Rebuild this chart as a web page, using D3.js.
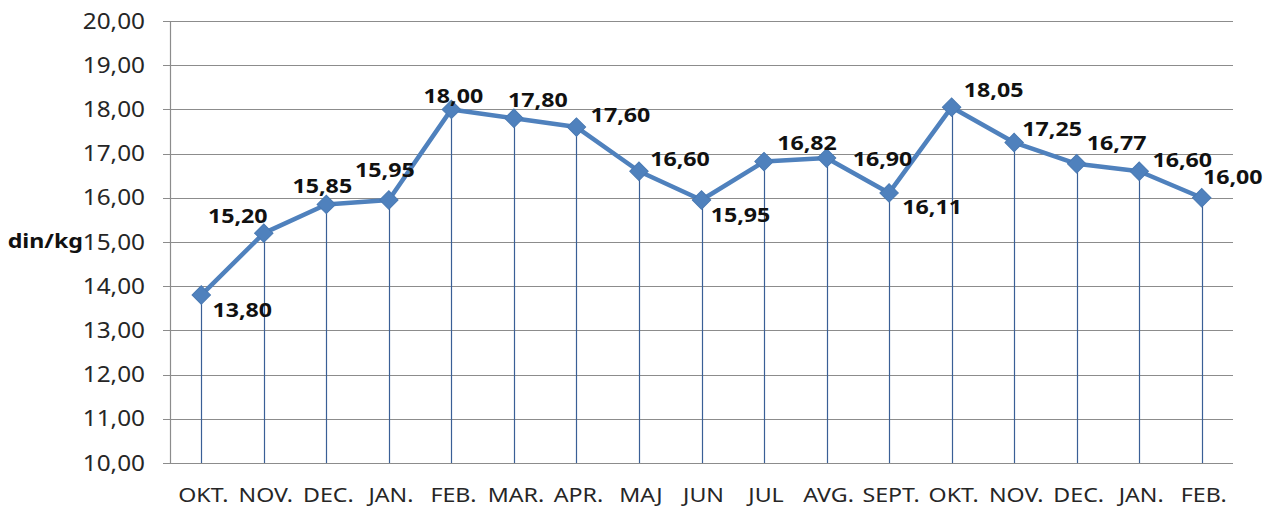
<!DOCTYPE html>
<meta charset="utf-8">
<style>
  body { margin: 0; background: #fff; }
  text { font-family: "Noto Sans", sans-serif; }
</style>
<script src="https://cdnjs.cloudflare.com/ajax/libs/d3/7.8.5/d3.min.js"></script>
<div id="chart"></div>
<script>

    // data
    var months = ["OKT.", "NOV.", "DEC.", "JAN.", "FEB.", "MAR.", "APR.", "MAJ", "JUN",
        "JUL", "AVG.", "SEPT.", "OKT.", "NOV.", "DEC.", "JAN.", "FEB."];
    var prices = [13.80, 15.20, 15.85, 15.95, 18.00, 17.80, 17.60, 16.60, 15.95,
        16.82, 16.90, 16.11, 18.05, 17.25, 16.77, 16.60, 16.00];
    var yTicks = [10, 11, 12, 13, 14, 15, 16, 17, 18, 19, 20];

    // label offsets from the marker (dx, dy), as placed in the original
    var labelOffsets = [[41, 15], [-26, -17], [-4, -19], [-4, -30], [2, -14], [24, -18],
        [44, -12], [41, -12], [39, 15], [43, -19], [56, 1], [43, 14], [42, -17],
        [38, -14], [40, -21], [43, -11], [31, -21]];

    var margin = {top: 21, right: 42, bottom: 45, left: 170},
        width = 1275 - margin.left - margin.right,
        height = 508 - margin.top - margin.bottom;

    // the original text is a bit stretched sideways
    var stretch = 1.16;

    var svg = d3.select("#chart")
        .append("svg")
            .attr("width", 1275)
            .attr("height", 508)
        .append("g")
            .attr("transform", "translate(" + margin.left + "," + margin.top + ")");

    var x = d3.scaleBand()
        .domain(d3.range(months.length))
        .range([0, width]);

    var y = d3.scaleLinear()
        .domain([10, 20])
        .range([height, 0]);

    var fmt = function(v) { return d3.format(".2f")(v).replace(".", ","); };
    var cx = function(i) { return x(i) + x.bandwidth() / 2; };
    var place = function(px, py) { return "translate(" + px + "," + py + ") scale(" + stretch + ",1)"; };

    // horizontal grid
    svg.append("g")
        .selectAll("line")
        .data(yTicks)
        .enter()
        .append("line")
            .attr("x1", -7)
            .attr("x2", width)
            .attr("y1", function(d) { return Math.round(y(d)) + 0.5; })
            .attr("y2", function(d) { return Math.round(y(d)) + 0.5; })
            .attr("stroke", "#8c8c8c")
            .attr("stroke-width", 1.2);

    // y axis line
    svg.append("line")
        .attr("x1", 0.5).attr("x2", 0.5)
        .attr("y1", 0).attr("y2", height)
        .attr("stroke", "#8c8c8c")
        .attr("stroke-width", 1.2);

    // y tick labels
    svg.append("g")
        .selectAll("text")
        .data(yTicks)
        .enter()
        .append("text")
            .attr("transform", function(d) { return place(-25, y(d)); })
            .attr("dy", "0.36em")
            .attr("text-anchor", "end")
            .style("font-size", "21px")
            .style("fill", "#262626")
            .text(fmt);

    // unit
    svg.append("text")
        .attr("transform", place(-87, y(15)))
        .attr("dy", "0.3em")
        .attr("text-anchor", "end")
        .style("font-size", "20px")
        .style("font-weight", "bold")
        .style("fill", "#111")
        .text("din/kg");

    // x labels
    svg.append("g")
        .selectAll("text")
        .data(months)
        .enter()
        .append("text")
            .attr("transform", function(d, i) { return place(cx(i) + 2, height + 39); })
            .attr("text-anchor", "middle")
            .style("font-size", "20px")
            .style("fill", "#262626")
            .text(function(d) { return d; });

    // drop lines
    svg.append("g")
        .selectAll("line")
        .data(prices)
        .enter()
        .append("line")
            .attr("x1", function(d, i) { return Math.round(cx(i)) + 0.5; })
            .attr("x2", function(d, i) { return Math.round(cx(i)) + 0.5; })
            .attr("y1", function(d) { return y(d); })
            .attr("y2", height)
            .attr("stroke", "#3a5f96")
            .attr("stroke-width", 1.2);

    // line
    svg.append("path")
        .datum(prices)
        .attr("d", d3.line()
            .x(function(d, i) { return cx(i); })
            .y(function(d) { return y(d); }))
        .attr("fill", "none")
        .attr("stroke", "#4f81bd")
        .attr("stroke-width", 4.5)
        .attr("stroke-linejoin", "round");

    // diamonds
    svg.append("g")
        .selectAll("path")
        .data(prices)
        .enter()
        .append("path")
            .attr("d", d3.symbol().type(d3.symbolSquare).size(170))
            .attr("transform", function(d, i) {
                return "translate(" + cx(i) + "," + y(d) + ") rotate(45)";
            })
            .attr("fill", "#4f81bd")
            .attr("stroke", "#4a7ab3")
            .attr("stroke-width", 1);

    // value labels
    svg.append("g")
        .selectAll("text")
        .data(prices)
        .enter()
        .append("text")
            .attr("transform", function(d, i) {
                return place(cx(i) + labelOffsets[i][0], y(d) + labelOffsets[i][1]);
            })
            .attr("dy", "0.36em")
            .attr("text-anchor", "middle")
            .style("font-size", "20px")
            .style("font-weight", "bold")
            .style("fill", "#111")
            .text(fmt);

</script>
